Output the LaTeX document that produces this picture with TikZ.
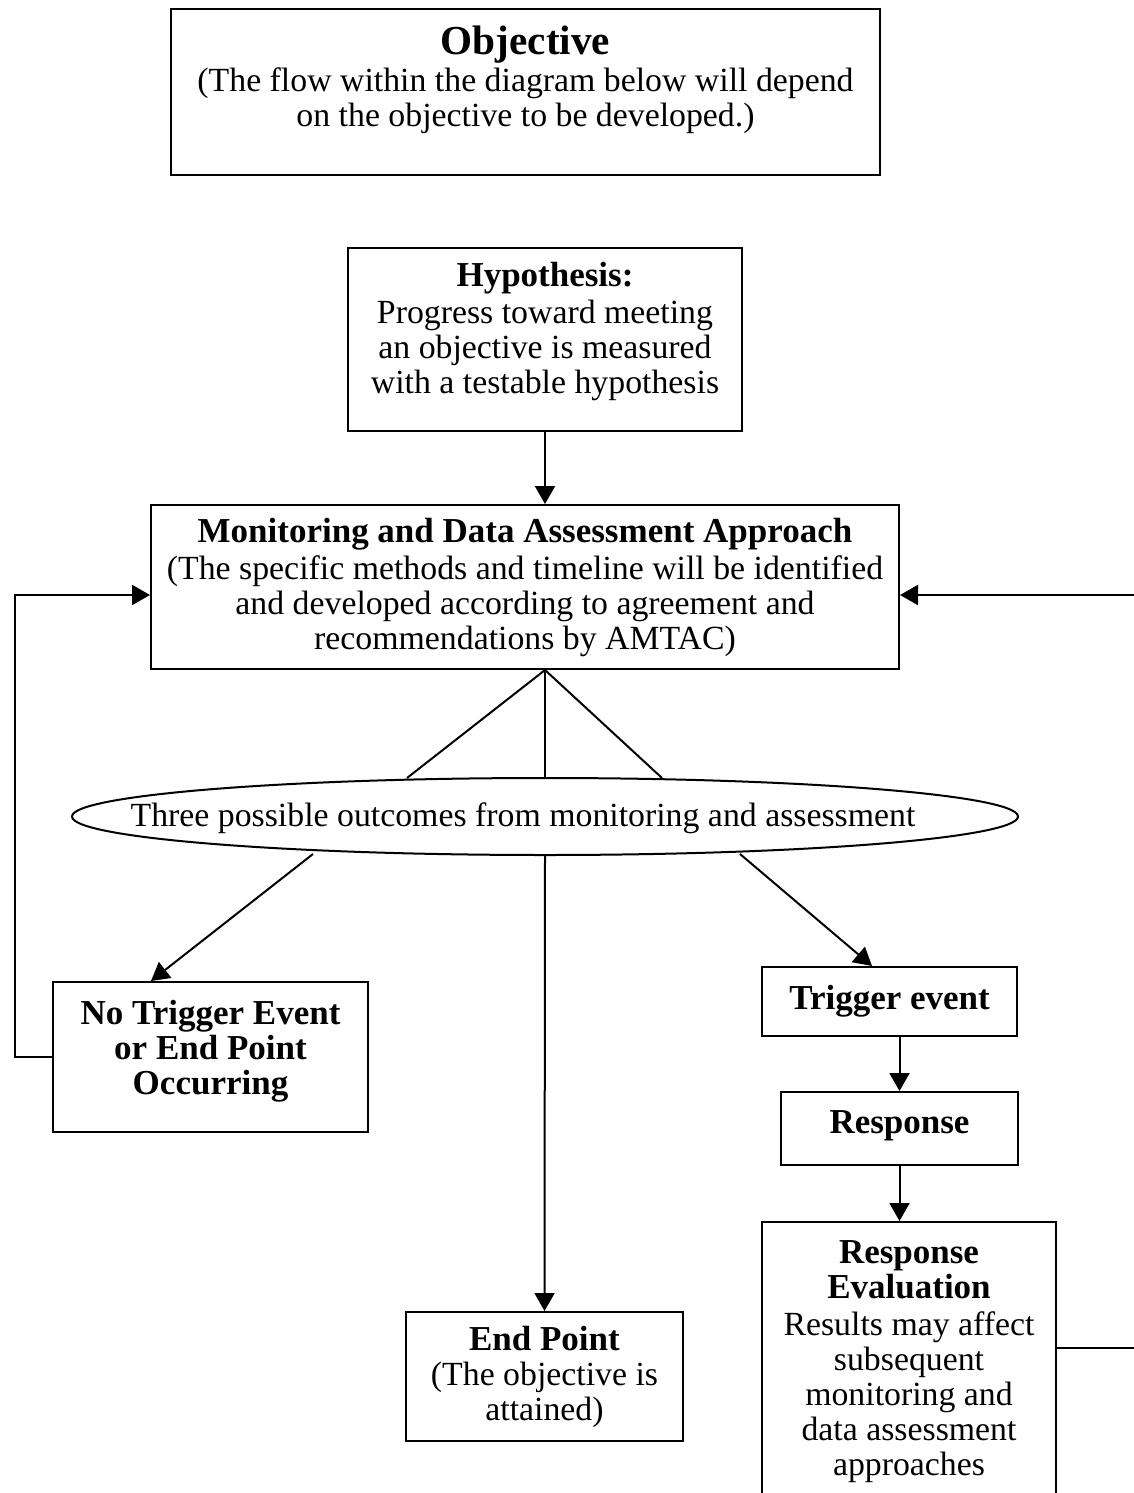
\documentclass[tikz,border=0pt]{standalone}
\usepackage{fontspec}
\setmainfont{Liberation Serif}
\usepackage{tikz}
\usetikzlibrary{arrows.meta,calc,positioning,shapes.geometric}
\newcommand{\boxhead}[1]{{\fontsize{17.5}{17.5}\selectfont\bfseries #1}}

\begin{document}
\begin{tikzpicture}[x=0.5pt, y=-0.5pt, line width=1pt,
  every node/.style={font=\fontsize{16.9}{17.5}\selectfont, align=center},
  box/.style={draw, line width=1pt, inner sep=0pt},
  >={Triangle[length=9pt,width=10pt]}]
\useasboundingbox (0,0) rectangle (1134,1493);
% --- top: objective and hypothesis ---
\node[box, minimum width=354.5pt, minimum height=83pt] (obj) at (525.5,92) {};
\node[anchor=north, inner sep=0pt] (objtxt) at ([yshift=-8.3pt]obj.north)
  {{\fontsize{20.6}{21}\selectfont\textbf{Objective}}\\[1pt]
   (The flow within the diagram below will depend\\
   on the objective to be developed.)};
\node[box, minimum width=197pt, minimum height=91.5pt] (hyp) at (545,339.5) {};
\node (hyptxt) at ($(hyp.center)+(0,-8)$)
  {\boxhead{Hypothesis:}\\[1pt] Progress toward meeting\\ an objective is measured\\ with a testable hypothesis};
\node[box, minimum width=374pt, minimum height=82pt] (mda) at (525,587)
  {\boxhead{Monitoring and Data Assessment Approach}\\[1pt]
   (The specific methods and timeline will be identified\\
   and developed according to agreement and\\
   recommendations by AMTAC)};
% --- the three outcomes ---
\node[ellipse, draw, minimum width=473pt, minimum height=38.5pt, inner sep=0pt] (ell) at (545,816.5) {};
\node (elltxt) at ($(ell.center)+(-22,2)$) {Three possible outcomes from monitoring and assessment};
\node[box, minimum width=157.5pt, minimum height=75pt] (ntr) at (210.5,1057) {};
\node (ntrtxt) at ($(ntr.center)+(0,-6)$)
  {\boxhead{No Trigger Event}\\ \boxhead{or End Point}\\ \boxhead{Occurring}};
\node[box, minimum width=138.5pt, minimum height=64.5pt] (endp) at (544.5,1376.5)
  {\boxhead{End Point}\\ (The objective is\\ attained)};
\node[box, minimum width=127.5pt, minimum height=34.5pt] (trig) at (889.5,1001.5) {\boxhead{Trigger event}};
\node[box, minimum width=118.5pt, minimum height=36.5pt] (resp) at (899.5,1128.5) {};
\node (resptxt) at ($(resp.center)+(0,-3)$) {\boxhead{Response}};
\node[box, anchor=north, minimum width=147pt, minimum height=150pt] (reval) at (909,1221) {};
\node[anchor=north, inner sep=0pt] (revaltxt) at ([yshift=-9.5pt]reval.north)
  {\boxhead{Response}\\ \boxhead{Evaluation}\\[1pt] Results may affect\\ subsequent\\ monitoring and\\ data assessment\\ approaches};
% --- connectors ---
\draw[->] (hyp.south) -- (hyp.south |- mda.north);
\draw (ell.north |- mda.south) -- (ell.north);
\draw (ell.north |- mda.south) -- ($(ell.north)+(-138,1)$);
\draw (ell.north |- mda.south) -- ($(ell.north)+(117,1)$);
\draw[->] ($(ell.south)+(-232,-2)$) -- ($(ntr.north west)+(99,0)$);
\draw[->] (ell.south) -- (endp.north);
\draw[->] ($(ell.south)+(195,-2)$) -- ($(trig.north west)+(111,0)$);
\draw[->] (resp.north |- trig.south) -- (resp.north);
\draw[->] (resp.south) -- (resp.south |- reval.north);
% --- feedback loops ---
\coordinate (lcorner) at (15,595);
\coordinate (rcorner) at (1135,595);
\draw[->] (ntr.west) -| (lcorner) -- ($(mda.west)+(0,8)$);
\draw[->] ($(reval.north east)+(0,127)$) -| (rcorner) -- ($(mda.east)+(0,8)$);
\end{tikzpicture}
\end{document}
